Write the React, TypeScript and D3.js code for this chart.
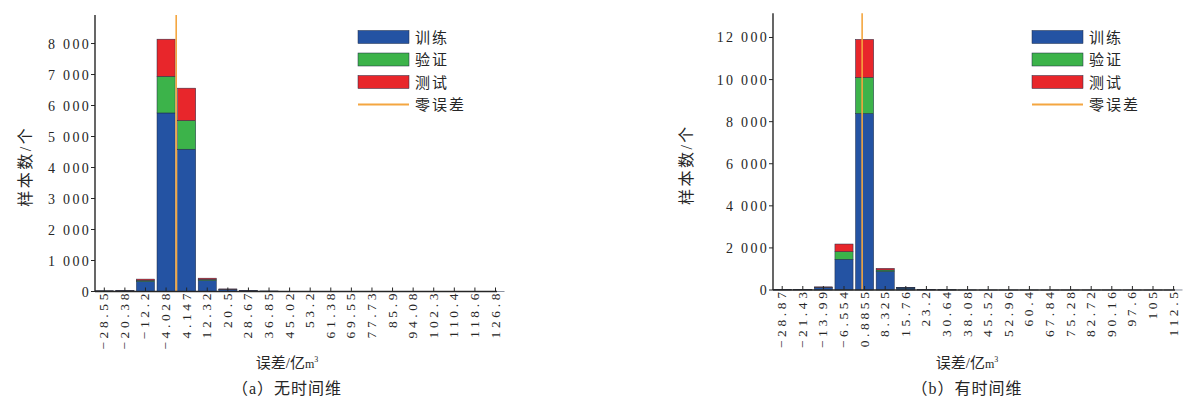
import React from "react";
import * as d3 from "d3";

// Bin centres (error, 亿m³) and stacked sample counts per bin
const binsA = [-28.55, -20.38, -12.2, -4.028, 4.147, 12.32, 20.5, 28.67, 36.85, 45.02, 53.2, 61.38, 69.55, 77.73, 85.9, 94.08, 102.3, 110.4, 118.6, 126.8];
const trainA = [15, 25, 320, 5760, 4590, 350, 60, 25, 10, 5, 5, 3, 3, 2, 2, 2, 1, 1, 1, 1];
const valA = [3, 5, 40, 1180, 925, 40, 12, 4, 2, 1, 1, 0, 0, 0, 0, 0, 0, 0, 0, 0];
const testA = [3, 5, 40, 1200, 1045, 40, 12, 4, 2, 1, 1, 0, 0, 0, 0, 0, 0, 0, 0, 0];
const yTicksA = [0, 1000, 2000, 3000, 4000, 5000, 6000, 7000, 8000];

const binsB = [-28.87, -21.43, -13.99, -6.554, 0.8855, 8.325, 15.76, 23.2, 30.64, 38.08, 45.52, 52.96, 60.4, 67.84, 75.28, 82.72, 90.16, 97.6, 105, 112.5];
const trainB = [10, 15, 110, 1460, 8390, 880, 90, 20, 8, 5, 3, 2, 2, 1, 1, 1, 1, 1, 1, 1];
const valB = [2, 3, 20, 360, 1710, 70, 10, 3, 1, 0, 0, 0, 0, 0, 0, 0, 0, 0, 0, 0];
const testB = [2, 3, 20, 365, 1810, 80, 10, 3, 1, 0, 0, 0, 0, 0, 0, 0, 0, 0, 0, 0];
const yTicksB = [0, 2000, 4000, 6000, 8000, 10000, 12000];

const seriesNames = ["训练", "验证", "测试"];
const zeroName = "零误差";
const colors = ["#2453a3", "#3cb34a", "#e8262b"];
const zeroColor = "#f4a640";

const fmtY = d3.formatLocale({ decimal: ".", thousands: " ", grouping: [3], currency: ["", ""] }).format(",");
const fmtX = (v: number) => String(v).replace("-", "\u2212");

const SERIF = "'Liberation Serif', 'DejaVu Serif', 'Noto Sans CJK SC', serif";
const INK = "#262626";

type PanelProps = {
  bins: number[];
  train: number[];
  val: number[];
  test: number[];
  yTicks: number[];
  yMax: number;
  axisX: number;
  firstX: number;
  lastX: number;
  axisEnd: number;
  baseY: number;
  topY: number;
  yTitleX: number;
  legendX: number;
  titleX: number;
  caption: string;
};

function Panel(p: PanelProps) {
  const x = d3.scalePoint<number>().domain(p.bins).range([p.firstX, p.lastX]);
  const xLin = d3.scaleLinear().domain([p.bins[0], p.bins[p.bins.length - 1]]).range([p.firstX, p.lastX]);
  const y = d3.scaleLinear().domain([0, p.yMax]).range([p.baseY, p.topY]);
  const bw = x.step() * 0.88;
  const rows = p.bins.map((b, i) => ({ b, v: [p.train[i], p.val[i], p.test[i]] }));
  const stack = d3.stack<any>().keys(["0", "1", "2"]).value((d, k) => d.v[+k]);
  const layers = stack(rows);
  const zx = xLin(0);

  return (
    <g>
      {/* stacked bars */}
      {layers.map((layer, li) => (
        <g key={li} fill={colors[li]} stroke="#1d2a44" strokeWidth={0.5}>
          {layer.map((seg, i) => {
            const h = y(seg[0]) - y(seg[1]);
            if (h <= 0) return null;
            return <rect key={i} x={x(p.bins[i])! - bw / 2} y={y(seg[1])} width={bw} height={h} />;
          })}
        </g>
      ))}
      {/* zero-error line */}
      <line x1={zx} x2={zx} y1={y(p.yMax)} y2={p.baseY} stroke={zeroColor} strokeWidth={1.6} />
      {/* axes */}
      <line x1={p.axisX} x2={p.axisX} y1={p.topY} y2={p.baseY} stroke={INK} strokeWidth={1.4} />
      <line x1={p.axisX} x2={p.axisEnd} y1={p.baseY} y2={p.baseY} stroke={INK} strokeWidth={1.4} />
      {p.yTicks.map((t) => (
        <g key={t}>
          <line x1={p.axisX - 4} x2={p.axisX} y1={y(t)} y2={y(t)} stroke={INK} strokeWidth={1} />
          <text x={p.axisX - 4} y={y(t) + 5} textAnchor="end" fontSize={14} letterSpacing={2.3} fontFamily={SERIF} fill={INK}>
            {fmtY(t)}
          </text>
        </g>
      ))}
      {p.bins.map((b) => (
        <g key={b}>
          <line x1={x(b)} x2={x(b)} y1={p.baseY} y2={p.baseY - 4} stroke={INK} strokeWidth={1} />
          <text
            transform={`translate(${x(b)! + 4},${p.baseY - 1.5}) rotate(-90)`}
            textAnchor="end"
            fontSize={13.5}
            letterSpacing={3.6}
            fontFamily={SERIF}
            fill={INK}
          >
            {fmtX(b)}
          </text>
        </g>
      ))}
      {/* axis titles */}
      <text
        transform={`translate(${p.yTitleX},${(p.topY + p.baseY) / 2 + 13}) rotate(-90)`}
        textAnchor="middle"
        fontSize={16}
        letterSpacing={2.5}
        fontFamily={SERIF}
        fill={INK}
      >
        样本数/个
      </text>
      <text x={p.titleX} y={368} textAnchor="middle" fontSize={15} fontFamily={SERIF} fill={INK}>
        误差/亿<tspan fontSize={12}>m</tspan>
        <tspan fontSize={8} dy={-6}>3</tspan>
      </text>
      <text x={p.titleX} y={394} textAnchor="middle" fontSize={16} letterSpacing={1} fontFamily={SERIF} fill={INK}>
        {p.caption}
      </text>
      {/* legend */}
      {seriesNames.map((n, i) => (
        <g key={n}>
          <rect x={p.legendX} y={30.5 + i * 22.5} width={51} height={13} fill={colors[i]} stroke="#1d2a44" strokeWidth={0.5} />
          <text x={p.legendX + 57} y={42.5 + i * 22.5} fontSize={15} letterSpacing={2} fontFamily={SERIF} fill={INK}>
            {n}
          </text>
        </g>
      ))}
      <line x1={p.legendX} x2={p.legendX + 51} y1={104.5} y2={104.5} stroke={zeroColor} strokeWidth={2} />
      <text x={p.legendX + 57} y={110} fontSize={15} letterSpacing={2} fontFamily={SERIF} fill={INK}>
        {zeroName}
      </text>
    </g>
  );
}

export default function App() {
  return (
    <svg width={1186} height={403} style={{ position: "absolute", left: 0, top: 0, background: "#fff" }}>
      <Panel
        bins={binsA}
        train={trainA}
        val={valA}
        test={testA}
        yTicks={yTicksA}
        yMax={8920}
        axisX={95}
        firstX={104.3}
        lastX={495.5}
        axisEnd={497}
        baseY={291.5}
        topY={15}
        yTitleX={31}
        legendX={358}
        titleX={287}
        caption="（a）无时间维"
      />
      <Panel
        bins={binsB}
        train={trainB}
        val={valB}
        test={testB}
        yTicks={yTicksB}
        yMax={13150}
        axisX={773}
        firstX={782.2}
        lastX={1173.6}
        axisEnd={1175}
        baseY={290}
        topY={13.3}
        yTitleX={692}
        legendX={1032}
        titleX={967}
        caption="（b）有时间维"
      />
    </svg>
  );
}
